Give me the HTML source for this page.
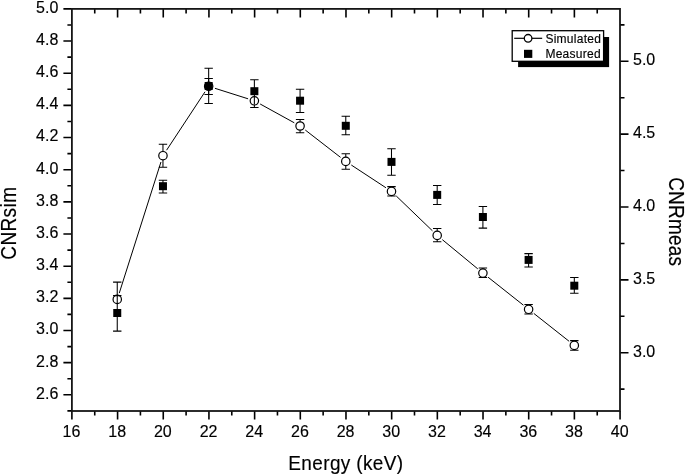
<!DOCTYPE html>
<html><head><meta charset="utf-8"><style>
html,body{margin:0;padding:0;background:#fff;}
text{stroke:#000;stroke-width:0.15px;}
svg{display:block;filter:grayscale(1);font-family:"Liberation Sans",sans-serif;}
</style></head><body>
<svg width="685" height="476" viewBox="0 0 685 476">
<rect width="685" height="476" fill="#fff"/>
<path d="M71.90 411.0 V419.5 M94.74 8.9 V13.4 M94.74 411.0 V415.5 M117.58 8.9 V17.4 M117.58 411.0 V419.5 M140.42 8.9 V13.4 M140.42 411.0 V415.5 M163.26 8.9 V17.4 M163.26 411.0 V419.5 M186.10 8.9 V13.4 M186.10 411.0 V415.5 M208.94 8.9 V17.4 M208.94 411.0 V419.5 M231.78 8.9 V13.4 M231.78 411.0 V415.5 M254.62 8.9 V17.4 M254.62 411.0 V419.5 M277.46 8.9 V13.4 M277.46 411.0 V415.5 M300.30 8.9 V17.4 M300.30 411.0 V419.5 M323.14 8.9 V13.4 M323.14 411.0 V415.5 M345.98 8.9 V17.4 M345.98 411.0 V419.5 M368.82 8.9 V13.4 M368.82 411.0 V415.5 M391.66 8.9 V17.4 M391.66 411.0 V419.5 M414.50 8.9 V13.4 M414.50 411.0 V415.5 M437.34 8.9 V17.4 M437.34 411.0 V419.5 M460.18 8.9 V13.4 M460.18 411.0 V415.5 M483.02 8.9 V17.4 M483.02 411.0 V419.5 M505.86 8.9 V13.4 M505.86 411.0 V415.5 M528.70 8.9 V17.4 M528.70 411.0 V419.5 M551.54 8.9 V13.4 M551.54 411.0 V415.5 M574.38 8.9 V17.4 M574.38 411.0 V419.5 M597.22 8.9 V13.4 M597.22 411.0 V415.5 M620.06 411.0 V419.5 M71.9 410.90 H67.4 M71.9 394.82 H63.400000000000006 M71.9 378.74 H67.4 M71.9 362.66 H63.400000000000006 M71.9 346.58 H67.4 M71.9 330.50 H63.400000000000006 M71.9 314.42 H67.4 M71.9 298.34 H63.400000000000006 M71.9 282.26 H67.4 M71.9 266.18 H63.400000000000006 M71.9 250.10 H67.4 M71.9 234.02 H63.400000000000006 M71.9 217.94 H67.4 M71.9 201.86 H63.400000000000006 M71.9 185.78 H67.4 M71.9 169.70 H63.400000000000006 M71.9 153.62 H67.4 M71.9 137.54 H63.400000000000006 M71.9 121.46 H67.4 M71.9 105.38 H63.400000000000006 M71.9 89.30 H67.4 M71.9 73.22 H63.400000000000006 M71.9 57.14 H67.4 M71.9 41.06 H63.400000000000006 M71.9 24.98 H67.4 M71.9 8.90 H63.400000000000006 M620.0 389.12 H624.5 M620.0 352.70 H628.5 M620.0 316.27 H624.5 M620.0 279.85 H628.5 M620.0 243.43 H624.5 M620.0 207.00 H628.5 M620.0 170.57 H624.5 M620.0 134.15 H628.5 M620.0 97.72 H624.5 M620.0 61.30 H628.5 M620.0 24.88 H624.5" stroke="#000" stroke-width="1.6" fill="none"/>
<rect x="71.9" y="8.9" width="548.10" height="402.10" stroke="#161616" stroke-width="1.8" fill="none"/>
<g font-size="16"><text x="71.50" y="436.6" text-anchor="middle">16</text><text x="117.18" y="436.6" text-anchor="middle">18</text><text x="162.86" y="436.6" text-anchor="middle">20</text><text x="208.54" y="436.6" text-anchor="middle">22</text><text x="254.22" y="436.6" text-anchor="middle">24</text><text x="299.90" y="436.6" text-anchor="middle">26</text><text x="345.58" y="436.6" text-anchor="middle">28</text><text x="391.26" y="436.6" text-anchor="middle">30</text><text x="436.94" y="436.6" text-anchor="middle">32</text><text x="482.62" y="436.6" text-anchor="middle">34</text><text x="528.30" y="436.6" text-anchor="middle">36</text><text x="573.98" y="436.6" text-anchor="middle">38</text><text x="619.66" y="436.6" text-anchor="middle">40</text><text x="58.3" y="398.72" text-anchor="end">2.6</text><text x="58.3" y="366.56" text-anchor="end">2.8</text><text x="58.3" y="334.40" text-anchor="end">3.0</text><text x="58.3" y="302.24" text-anchor="end">3.2</text><text x="58.3" y="270.08" text-anchor="end">3.4</text><text x="58.3" y="237.92" text-anchor="end">3.6</text><text x="58.3" y="205.76" text-anchor="end">3.8</text><text x="58.3" y="173.60" text-anchor="end">4.0</text><text x="58.3" y="141.44" text-anchor="end">4.2</text><text x="58.3" y="109.28" text-anchor="end">4.4</text><text x="58.3" y="77.12" text-anchor="end">4.6</text><text x="58.3" y="44.96" text-anchor="end">4.8</text><text x="58.3" y="12.80" text-anchor="end">5.0</text><text x="633" y="356.60">3.0</text><text x="633" y="283.75">3.5</text><text x="633" y="210.90">4.0</text><text x="633" y="138.05">4.5</text><text x="633" y="65.20">5.0</text></g>
<text transform="translate(345.9 469.6) scale(1 1.1)" font-size="19" text-anchor="middle" letter-spacing="0.36">Energy (keV)</text>
<text transform="translate(15.8 223.2) rotate(-90) scale(1 1.15)" font-size="19" text-anchor="middle" letter-spacing="0.4">CNRsim</text>
<text transform="translate(668.6 221.7) rotate(90) scale(1 1.15)" font-size="19" text-anchor="middle" letter-spacing="0.2">CNRmeas</text>
<path d="M119.25 293.11 L160.96 161.99 M166.59 150.19 L205.03 91.81 M214.95 88.30 L248.08 98.80 M260.15 103.99 L294.29 122.81 M305.29 130.04 L340.56 157.36 M351.30 165.02 L385.97 187.78 M396.24 195.98 L432.44 230.82 M442.28 239.60 L477.81 268.90 M488.07 277.20 L523.43 305.20 M533.78 313.39 L569.13 341.31" stroke="#000" stroke-width="1.0" fill="none"/>
<path d="M117.25 282.1 V299.4 M113.05 282.1 H121.45 M162.96 144.3 V167.2 M158.76 144.3 H167.16 M158.76 167.2 H167.16 M208.66 68.3 V103.5 M204.46 68.3 H212.86 M204.46 103.5 H212.86 M254.37 100.8 V107.4 M250.17 107.4 H258.57 M300.07 119.5 V132.7 M295.87 119.5 H304.27 M295.87 132.7 H304.27 M345.78 153.8 V169.3 M341.58 153.8 H349.98 M341.58 169.3 H349.98 M391.49 186.6 V196.0 M387.29 186.6 H395.69 M387.29 196.0 H395.69 M437.19 228.5 V241.7 M432.99 228.5 H441.39 M432.99 241.7 H441.39 M482.90 267.9 V277.5 M478.70 267.9 H487.10 M478.70 277.5 H487.10 M528.60 304.5 V314.0 M524.40 304.5 H532.80 M524.40 314.0 H532.80 M574.31 340.6 V350.3 M570.11 340.6 H578.51 M570.11 350.3 H578.51" stroke="#000" stroke-width="1.05" fill="none"/>
<circle cx="117.25" cy="299.4" r="4.2" fill="#fff" stroke="#000" stroke-width="1.2"/>
<circle cx="162.96" cy="155.7" r="4.2" fill="#fff" stroke="#000" stroke-width="1.2"/>
<circle cx="208.66" cy="86.3" r="4.2" fill="#fff" stroke="#000" stroke-width="1.2"/>
<circle cx="254.37" cy="100.8" r="4.2" fill="#fff" stroke="#000" stroke-width="1.2"/>
<circle cx="300.07" cy="126.0" r="4.2" fill="#fff" stroke="#000" stroke-width="1.2"/>
<circle cx="345.78" cy="161.4" r="4.2" fill="#fff" stroke="#000" stroke-width="1.2"/>
<circle cx="391.49" cy="191.4" r="4.2" fill="#fff" stroke="#000" stroke-width="1.2"/>
<circle cx="437.19" cy="235.4" r="4.2" fill="#fff" stroke="#000" stroke-width="1.2"/>
<circle cx="482.90" cy="273.1" r="4.2" fill="#fff" stroke="#000" stroke-width="1.2"/>
<circle cx="528.60" cy="309.3" r="4.2" fill="#fff" stroke="#000" stroke-width="1.2"/>
<circle cx="574.31" cy="345.4" r="4.2" fill="#fff" stroke="#000" stroke-width="1.2"/>
<path d="M117.25 295.6 V331.1 M113.05 295.6 H121.45 M113.05 331.1 H121.45 M162.96 180.3 V193.0 M158.76 180.3 H167.16 M158.76 193.0 H167.16 M208.66 78.4 V94.5 M204.46 78.4 H212.86 M204.46 94.5 H212.86 M254.37 79.7 V104.6 M250.17 79.7 H258.57 M300.07 89.3 V112.4 M295.87 89.3 H304.27 M295.87 112.4 H304.27 M345.78 116.3 V134.8 M341.58 116.3 H349.98 M341.58 134.8 H349.98 M391.49 148.8 V175.2 M387.29 148.8 H395.69 M387.29 175.2 H395.69 M437.19 185.5 V204.4 M432.99 185.5 H441.39 M432.99 204.4 H441.39 M482.90 206.5 V228.1 M478.70 206.5 H487.10 M478.70 228.1 H487.10 M528.60 253.6 V266.9 M524.40 253.6 H532.80 M524.40 266.9 H532.80 M574.31 277.4 V293.3 M570.11 277.4 H578.51 M570.11 293.3 H578.51" stroke="#000" stroke-width="1.05" fill="none"/>
<rect x="113.25" y="309.00" width="8" height="8" fill="#000"/>
<rect x="158.96" y="182.20" width="8" height="8" fill="#000"/>
<rect x="204.66" y="82.00" width="8" height="8" fill="#000"/>
<rect x="250.37" y="87.20" width="8" height="8" fill="#000"/>
<rect x="296.07" y="96.70" width="8" height="8" fill="#000"/>
<rect x="341.78" y="121.80" width="8" height="8" fill="#000"/>
<rect x="387.49" y="157.90" width="8" height="8" fill="#000"/>
<rect x="433.19" y="190.90" width="8" height="8" fill="#000"/>
<rect x="478.90" y="213.00" width="8" height="8" fill="#000"/>
<rect x="524.60" y="255.90" width="8" height="8" fill="#000"/>
<rect x="570.31" y="281.70" width="8" height="8" fill="#000"/>
<rect x="518.1" y="37.0" width="91" height="30.1" fill="#000"/>
<rect x="512.2" y="30.7" width="91.4" height="30.6" fill="#fff" stroke="#000" stroke-width="1.3"/>
<path d="M514.2 38.3 H542.2" stroke="#000" stroke-width="1.2"/>
<circle cx="528.1" cy="38.3" r="3.8" fill="#fff" stroke="#000" stroke-width="1.3"/>
<rect x="524" y="49.8" width="8.3" height="8.1" fill="#000"/>
<text x="545.4" y="42.9" font-size="12" letter-spacing="0.26">Simulated</text>
<text x="545.4" y="57.7" font-size="12" letter-spacing="0.26">Measured</text>
</svg></body></html>
